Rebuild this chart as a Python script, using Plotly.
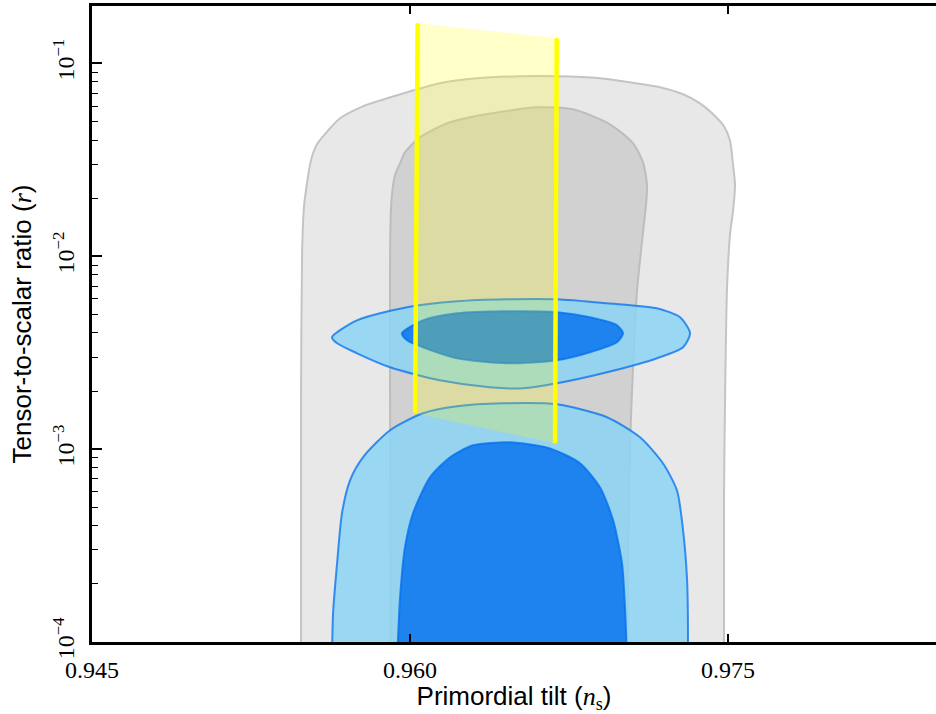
import plotly.graph_objects as go

# ---------------- data ----------------
# outer (95%) grey region
ns_grey_outer = [0.95486, 0.95486, 0.95491, 0.95500, 0.95533, 0.95561, 0.95590, 0.95670,
                 0.95778, 0.95939, 0.96141, 0.96316, 0.96519, 0.96693, 0.96896, 0.97005,
                 0.97179, 0.97288, 0.97368, 0.97425, 0.97481, 0.97509, 0.97524, 0.97533,
                 0.97524, 0.97509, 0.97495, 0.97486, 0.97481, 0.97481]
r_grey_outer = [8e-5, 1.791e-3, 1.047e-2, 1.814e-2, 3.141e-2, 3.803e-2, 4.183e-2, 5.186e-2,
                5.984e-2, 6.824e-2, 7.878e-2, 8.360e-2, 8.562e-2, 8.562e-2, 8.360e-2, 8.067e-2,
                7.510e-2, 6.907e-2, 6.203e-2, 5.505e-2, 4.714e-2, 3.989e-2, 2.960e-2, 2.331e-2,
                1.729e-2, 1.283e-2, 6.655e-3, 1.791e-3, 5.428e-4, 8e-5]

# inner (68%) grey region
ns_grey_inner = [0.95910, 0.95906, 0.95906, 0.95910, 0.95915, 0.95929, 0.95953, 0.95976,
                 0.96047, 0.96175, 0.96330, 0.96599, 0.96769, 0.96943, 0.97052, 0.97099,
                 0.97118, 0.97113, 0.97099, 0.97071, 0.97052, 0.97038, 0.97028, 0.97024]
r_grey_inner = [8e-5, 1.791e-3, 1.047e-2, 1.729e-2, 2.094e-2, 2.627e-2, 3.031e-2, 3.455e-2,
                4.134e-2, 4.887e-2, 5.375e-2, 5.914e-2, 5.774e-2, 4.829e-2, 3.848e-2, 3.068e-2,
                2.331e-2, 1.836e-2, 1.330e-2, 6.655e-3, 2.687e-3, 1.072e-3, 2.716e-4, 8e-5]

# lower blue set (95% and 68%)
ns_blue_low_outer = [0.95632, 0.95637, 0.95656, 0.95679, 0.95717, 0.95778, 0.95906, 0.96061,
                     0.96222, 0.96439, 0.96693, 0.96929, 0.97085, 0.97193, 0.97259, 0.97288,
                     0.97307, 0.97311, 0.97311]
r_blue_low_outer = [8e-5, 1.409e-4, 2.559e-4, 4.647e-4, 6.892e-4, 9.068e-4, 1.252e-3, 1.533e-3,
                    1.667e-3, 1.727e-3, 1.707e-3, 1.462e-3, 1.151e-3, 8.441e-4, 6.115e-4, 3.794e-4,
                    2.089e-4, 1.295e-4, 8e-5]
ns_blue_low_inner = [0.95939, 0.95953, 0.95976, 0.96014, 0.96094, 0.96189, 0.96297, 0.96472,
                     0.96660, 0.96802, 0.96896, 0.96958, 0.97000, 0.97014, 0.97024]
r_blue_low_inner = [8e-5, 1.704e-4, 3.097e-4, 4.647e-4, 7.142e-4, 9.068e-4, 1.046e-3, 1.084e-3,
                    1.009e-3, 8.441e-4, 6.339e-4, 4.275e-4, 2.559e-4, 1.513e-4, 8e-5]

# upper blue set (95% and 68%)
ns_blue_high_outer = [0.95632, 0.95656, 0.95750, 0.95906, 0.96141, 0.96377, 0.96533, 0.96693,
                      0.96929, 0.97165, 0.97288, 0.97321, 0.97274, 0.97165, 0.96929, 0.96693,
                      0.96458, 0.96222, 0.95986, 0.95750, 0.95632]
r_blue_high_outer = [3.799e-3, 3.536e-3, 3.138e-3, 2.655e-3, 2.273e-3, 2.091e-3, 2.066e-3, 2.193e-3,
                     2.501e-3, 2.957e-3, 3.370e-3, 3.985e-3, 4.822e-3, 5.370e-3, 5.700e-3, 5.978e-3,
                     5.978e-3, 5.836e-3, 5.435e-3, 4.652e-3, 3.799e-3]
ns_blue_high_inner = [0.95962, 0.95986, 0.96061, 0.96222, 0.96458, 0.96693, 0.96849, 0.96976,
                      0.97005, 0.96976, 0.96849, 0.96693, 0.96458, 0.96222, 0.96061, 0.95962]
r_blue_high_inner = [3.985e-3, 3.664e-3, 3.370e-3, 2.957e-3, 2.785e-3, 2.886e-3, 3.176e-3, 3.578e-3,
                     3.985e-3, 4.382e-3, 4.822e-3, 5.119e-3, 5.181e-3, 5.058e-3, 4.652e-3, 3.985e-3]

# yellow band (two model lines and the region between them)
ns_band_left = [0.96036, 0.96024]
r_band_left = [0.1612, 1.533e-3]
ns_band_right = [0.96692, 0.96684]
r_band_right = [0.1348, 1.072e-3]

x_tick_vals = [0.945, 0.960, 0.975]
x_tick_text = ["0.945", "0.960", "0.975"]
y_tick_vals = [1e-4, 1e-3, 1e-2, 1e-1]
y_tick_text = ["10<sup>\u22124</sup>", "10<sup>\u22123</sup>", "10<sup>\u22122</sup>", "10<sup>\u22121</sup>"]
y_minor_vals = [m * 10.0 ** e for e in (-4, -3, -2) for m in range(2, 10)]

x_title = "Primordial tilt (<span style='font-family:Liberation Serif'><i>n</i><sub>s</sub></span>)"
y_title = "Tensor-to-scalar ratio (<span style='font-family:Liberation Serif'><i>r</i></span>)"

# ---------------- styles ----------------
GREY_LIGHT = "#e8e8e8"
GREY_DARK = "#d1d1d1"
GREY_EDGE = "#c4c4c4"
BLUE_LIGHT = "rgba(140,211,245,0.85)"
BLUE_DARK = "rgba(0,111,237,0.80)"
BLUE_EDGE = "rgba(0,111,237,0.75)"
YELLOW_FILL = "rgba(255,255,0,0.22)"
YELLOW = "#ffff00"

fig = go.Figure()


def region(xs, ys, fill, edge, width=2.0):
    fig.add_trace(go.Scatter(
        x=xs, y=ys, mode="lines", fill="toself", fillcolor=fill,
        line=dict(color=edge, width=width, shape="spline", smoothing=0.7),
        hoverinfo="skip", showlegend=False))


region(ns_grey_outer, r_grey_outer, GREY_LIGHT, GREY_EDGE)
region(ns_grey_inner, r_grey_inner, GREY_DARK, "#bdbdbd")
region(ns_blue_low_outer, r_blue_low_outer, BLUE_LIGHT, BLUE_EDGE)
region(ns_blue_low_inner, r_blue_low_inner, BLUE_DARK, BLUE_EDGE)
region(ns_blue_high_outer, r_blue_high_outer, BLUE_LIGHT, BLUE_EDGE)
region(ns_blue_high_inner, r_blue_high_inner, BLUE_DARK, BLUE_EDGE)

# yellow band between the two lines
band_x = ns_band_left[:1] + ns_band_right + ns_band_left[1:]
band_y = r_band_left[:1] + r_band_right + r_band_left[1:]
fig.add_trace(go.Scatter(x=band_x, y=band_y, mode="lines", fill="toself",
                         fillcolor=YELLOW_FILL, line=dict(width=0),
                         hoverinfo="skip", showlegend=False))
for xs, ys in ((ns_band_left, r_band_left), (ns_band_right, r_band_right)):
    fig.add_trace(go.Scatter(x=xs, y=ys, mode="lines",
                             line=dict(color=YELLOW, width=4.5),
                             hoverinfo="skip", showlegend=False))

TICK_FONT = dict(family="Liberation Serif, DejaVu Serif, serif", size=24, color="black")
TITLE_FONT = dict(family="Liberation Sans, Arial, sans-serif", size=26, color="black")

fig.update_layout(
    width=936, height=714, autosize=False,
    margin=dict(l=92, r=0, t=6, b=72),
    paper_bgcolor="white", plot_bgcolor="white",
    showlegend=False,
    xaxis=dict(
        range=[0.945, 0.98481], showgrid=False, zeroline=False,
        showline=True, linecolor="black", linewidth=2.5, mirror="ticks",
        ticks="inside", ticklen=8, tickwidth=1.5, tickcolor="black",
        tickmode="array", tickvals=x_tick_vals, ticktext=x_tick_text,
        tickfont=TICK_FONT, ticklabelstandoff=4,
        title=dict(text=x_title, font=TITLE_FONT, standoff=10),
    ),
    yaxis=dict(
        type="log", range=[-4, -0.703], showgrid=False, zeroline=False,
        showline=True, linecolor="black", linewidth=2.5, mirror=False,
        ticks="inside", ticklen=10, tickwidth=1.5, tickcolor="black",
        tickmode="array", tickvals=y_tick_vals, ticktext=y_tick_text,
        tickangle=-90, tickfont=TICK_FONT, ticklabelstandoff=6,
        minor=dict(tickmode="array", tickvals=y_minor_vals, ticks="inside",
                   ticklen=6, tickwidth=1.2, tickcolor="black", showgrid=False),
        title=dict(text=y_title, font=TITLE_FONT, standoff=10),
    ),
)

fig.write_html("out.html")
